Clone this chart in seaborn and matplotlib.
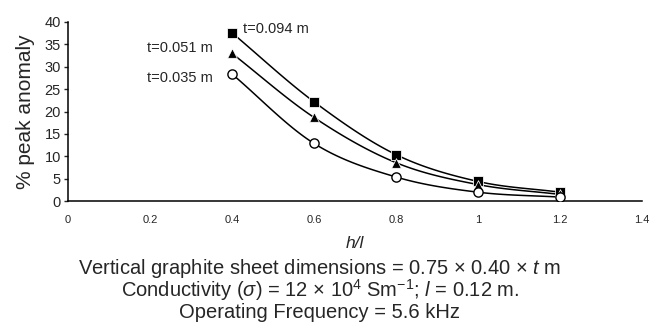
import numpy as np
import pandas as pd
import matplotlib
matplotlib.use("Agg")
import matplotlib.pyplot as plt
import seaborn as sns

x_vals = [0.4, 0.6, 0.8, 1.0, 1.2]
t094 = [37.6, 22.2, 10.4, 4.4, 2.0]
t051 = [33.0, 18.7, 8.6, 3.7, 1.5]
t035 = [28.4, 12.9, 5.4, 2.0, 0.9]
series_labels = ["t=0.094 m", "t=0.051 m", "t=0.035 m"]
x_ticks = [0, 0.2, 0.4, 0.6, 0.8, 1, 1.2, 1.4]
y_ticks = [0, 5, 10, 15, 20, 25, 30, 35, 40]

sns.set_style("white")
plt.rcParams['font.family'] = ['Liberation Sans', 'DejaVu Sans']
plt.rcParams['mathtext.fontset'] = 'custom'
plt.rcParams['mathtext.rm'] = 'Liberation Sans'
plt.rcParams['mathtext.it'] = 'Liberation Sans:italic'


def catmull(xs, ys, n=30):
    xs = np.asarray(xs, float); ys = np.asarray(ys, float)
    P = np.column_stack([xs, ys])
    P = np.vstack([2 * P[0] - P[1], P, 2 * P[-1] - P[-2]])
    out = []
    for i in range(1, len(P) - 2):
        p0, p1, p2, p3 = P[i - 1], P[i], P[i + 1], P[i + 2]
        t = np.linspace(0, 1, n, endpoint=(i == len(P) - 3))[:, None]
        c = 0.5 * ((2 * p1) + (-p0 + p2) * t + (2 * p0 - 5 * p1 + 4 * p2 - p3) * t ** 2
                   + (-p0 + 3 * p1 - 3 * p2 + p3) * t ** 3)
        out.append(c)
    c = np.vstack(out)
    return c[:, 0], c[:, 1]


fig = plt.figure(figsize=(6.53, 3.33), dpi=100)
ax = fig.add_axes([0.104, 0.396, 0.879, 0.538])

data = {"t=0.094 m": t094, "t=0.051 m": t051, "t=0.035 m": t035}
markers = {"t=0.094 m": dict(marker="s", s=48, color="black"),
           "t=0.051 m": dict(marker="^", s=48, color="black"),
           "t=0.035 m": dict(marker="o", s=44, facecolor="white", edgecolor="black", linewidth=1.0)}

for lab in series_labels:
    cx, cy = catmull(x_vals, data[lab])
    ax.plot(cx, cy, color="black", lw=1.1, zorder=2)
    df = pd.DataFrame({"x": x_vals, "y": data[lab]})
    sns.scatterplot(data=df, x="x", y="y", ax=ax, zorder=3, **markers[lab])

ax.set_xlim(0, 1.4)
ax.set_ylim(0, 40)
ax.set_xticks(x_ticks)
ax.set_xticklabels([str(v) for v in x_ticks])
ax.set_yticks(y_ticks)
ax.tick_params(axis="x", length=0, labelsize=8, pad=10)
ax.tick_params(axis="y", length=3, width=1, direction="out", left=True, labelsize=10.5, pad=2)
for s in ["top", "right"]:
    ax.spines[s].set_visible(False)
for s in ["left", "bottom"]:
    ax.spines[s].set_color("black")
    ax.spines[s].set_linewidth(1.1)
ax.set_xlabel("h/l", fontsize=12.5, style="italic", labelpad=8)
ax.set_ylabel("% peak anomaly", fontsize=15, labelpad=7)

ax.annotate(series_labels[0], (0.4, 37.6), xytext=(8, 3), textcoords="offset points",
            fontsize=10.5, ha="left", va="center")
ax.annotate(series_labels[1], (0.4, 33.0), xytext=(-14, 4), textcoords="offset points",
            fontsize=10.5, ha="right", va="center")
ax.annotate(series_labels[2], (0.4, 28.4), xytext=(-14, -3), textcoords="offset points",
            fontsize=10.5, ha="right", va="center")

cap = 14.5
fig.text(0.49, 0.195, r"Vertical graphite sheet dimensions = 0.75 $\times$ 0.40 $\times$ $\mathit{t}$ m",
         ha="center", va="center", fontsize=cap)
fig.text(0.49, 0.128, r"Conductivity ($\sigma$) = 12 $\times$ 10$^{4}$ Sm$^{-1}$; $\mathit{l}$ = 0.12 m.",
         ha="center", va="center", fontsize=cap)
fig.text(0.49, 0.063, "Operating Frequency = 5.6 kHz", ha="center", va="center", fontsize=cap)

fig.savefig("out.png", dpi=100)
